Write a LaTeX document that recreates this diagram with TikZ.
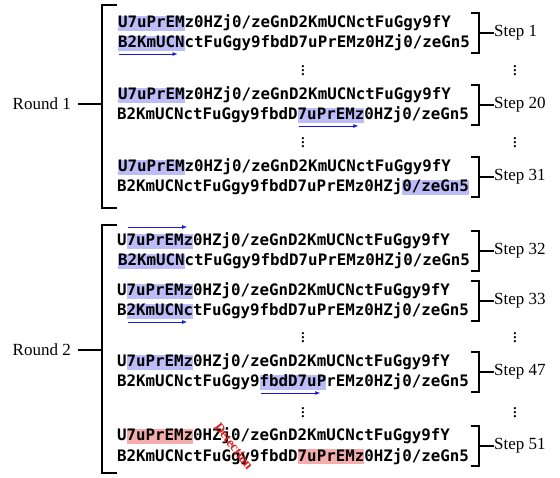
\documentclass[tikz,border=0pt]{standalone}
\usepackage{fontspec}
\setmainfont{Liberation Serif}
\newfontfamily\monofont{DejaVu Sans Mono}
\usetikzlibrary{arrows.meta}
\definecolor{hlblue}{RGB}{188,188,248}
\definecolor{hlred}{RGB}{245,172,172}
\definecolor{arrblue}{RGB}{25,25,225}
\definecolor{detred}{RGB}{225,30,30}
\tikzset{
  mono/.style={inner sep=0pt, outer sep=0pt, anchor=base west,
    font=\monofont\bfseries\fontsize{15.8pt}{18pt}\selectfont,
    text height=12pt, text depth=3pt},
  hlb/.style={mono, fill=hlblue},
  hlr/.style={mono, fill=hlred},
  brk/.style={line width=1.8pt, line cap=rect},
  lbl/.style={inner sep=1pt, font=\fontsize{17pt}{20pt}\selectfont},
  mv/.style={-{Latex[length=5pt,width=4pt]}, draw=arrblue, line width=0.8pt},
  vd/.style={inner sep=0pt, font=\fontsize{19pt}{19pt}\selectfont}
}
% #1 name, #2 baseline y, #3 before, #4 highlighted, #5 after, #6 highlight style
\newcommand{\hlline}[6]{%
  \node[mono] (#1-p) at (117,#2) {#3};
  \node[#6] (#1-h) at (#1-p.base east) {#4};
  \node[mono] (#1-q) at (#1-h.base east) {#5};
}
% right bracket: #1 name, #2 top, #3 bottom, #4 label
\newcommand{\stepbrk}[4]{%
  \draw[brk] (472,#2) -- (479,#2) -- (479,#3) -- (472,#3);
  \coordinate (#1-c) at (479,{(#2+#3)/2});
  \node[lbl, anchor=west] (#1-l) at (493,{(#2+#3)/2}) {#4};
  \draw[brk] (#1-c) -- (#1-l.west);
}
\begin{document}
\begin{tikzpicture}[x=1pt,y=-1pt]
\useasboundingbox (0,0) rectangle (560,478);

% ---------- Round 1 ----------
\hlline{s1a}{28}{}{U7uPrEM}{z0HZj0/zeGnD2KmUCNctFuGgy9fY}{hlb}
\hlline{s1b}{48}{}{B2KmUCN}{ctFuGgy9fbdD7uPrEMz0HZj0/zeGn5}{hlb}
\draw[mv] ([xshift=1pt,yshift=-6pt]s1b-h.base west) -- ([xshift=-7pt,yshift=-6pt]s1b-h.base east);
\stepbrk{st1}{13}{53}{Step 1}

\hlline{s20a}{100}{}{U7uPrEM}{z0HZj0/zeGnD2KmUCNctFuGgy9fY}{hlb}
\hlline{s20b}{120}{B2KmUCNctFuGgy9fbdD}{7uPrEMz}{0HZj0/zeGn5}{hlb}
\draw[mv] ([xshift=1pt,yshift=-6pt]s20b-h.base west) -- ([xshift=-6pt,yshift=-6pt]s20b-h.base east);
\stepbrk{st20}{85}{125}{Step 20}

\hlline{s31a}{172}{}{U7uPrEM}{z0HZj0/zeGnD2KmUCNctFuGgy9fY}{hlb}
\hlline{s31b}{192}{B2KmUCNctFuGgy9fbdD7uPrEMz0HZj}{0/zeGn5}{}{hlb}
\stepbrk{st31}{157}{197}{Step 31}

\node[vd] (d1) at (303,68) {$\vdots$};
\node[vd] (d2) at (303,140) {$\vdots$};
\node[vd] (e1) at (515,68) {$\vdots$};
\node[vd] (e2) at (515,140) {$\vdots$};

\draw[brk] (116,5) -- (102,5) -- (102,208) -- (116,208);
\coordinate (r1c) at (102,104);
\node[lbl, anchor=east] (r1) at (72,104) {Round 1};
\draw[brk, shorten >=7pt] (r1c) -- (r1.east);

% ---------- Round 2 ----------
\hlline{s32a}{246}{U}{7uPrEMz}{0HZj0/zeGnD2KmUCNctFuGgy9fY}{hlb}
\draw[mv] ([xshift=1pt,yshift=19pt]s32a-h.base west) -- ([xshift=-6pt,yshift=19pt]s32a-h.base east);
\hlline{s32b}{266}{}{B2KmUCN}{ctFuGgy9fbdD7uPrEMz0HZj0/zeGn5}{hlb}
\stepbrk{st32}{231}{271}{Step 32}

\hlline{s33a}{296}{U}{7uPrEMz}{0HZj0/zeGnD2KmUCNctFuGgy9fY}{hlb}
\hlline{s33b}{316}{B}{2KmUCNc}{tFuGgy9fbdD7uPrEMz0HZj0/zeGn5}{hlb}
\draw[mv] ([xshift=1pt,yshift=-6pt]s33b-h.base west) -- ([xshift=-6pt,yshift=-6pt]s33b-h.base east);
\stepbrk{st33}{281}{321}{Step 33}

\hlline{s47a}{367}{U}{7uPrEMz}{0HZj0/zeGnD2KmUCNctFuGgy9fY}{hlb}
\hlline{s47b}{387}{B2KmUCNctFuGgy9}{fbdD7uP}{rEMz0HZj0/zeGn5}{hlb}
\draw[mv] ([xshift=1pt,yshift=-6pt]s47b-h.base west) -- ([xshift=-6pt,yshift=-6pt]s47b-h.base east);
\stepbrk{st47}{352}{392}{Step 47}

\hlline{s51a}{441}{U}{7uPrEMz}{0HZj0/zeGnD2KmUCNctFuGgy9fY}{hlr}
\hlline{s51b}{461}{B2KmUCNctFuGgy9fbdD}{7uPrEMz}{0HZj0/zeGn5}{hlr}
\stepbrk{st51}{426}{466}{Step 51}

\node[vd] (d3) at (303,335) {$\vdots$};
\node[vd] (d4) at (303,410) {$\vdots$};
\node[vd] (e3) at (515,335) {$\vdots$};
\node[vd] (e4) at (515,410) {$\vdots$};

\node[rotate=-52, inner sep=0pt, text=detred, font=\bfseries\fontsize{13.5pt}{13.5pt}\selectfont] (det) at (234,446) {Detection};

\draw[brk] (116,225) -- (102,225) -- (102,473) -- (116,473);
\coordinate (r2c) at (102,350);
\node[lbl, anchor=east] (r2) at (72,350) {Round 2};
\draw[brk, shorten >=7pt] (r2c) -- (r2.east);
\end{tikzpicture}
\end{document}
